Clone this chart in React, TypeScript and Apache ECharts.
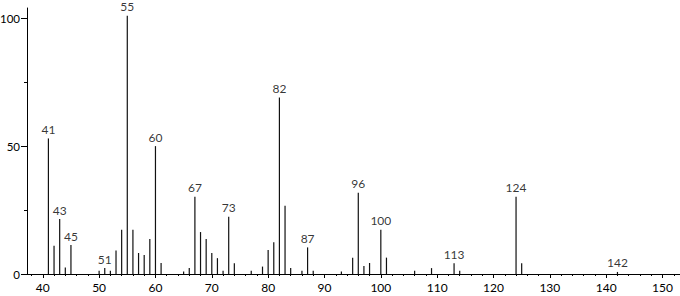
import React, { useEffect, useRef } from "react";
import * as echarts from "echarts";

const mz = [41, 42, 43, 44, 45, 50, 51, 52, 53, 54, 55, 56, 57, 58, 59, 60, 61, 65, 66, 67, 68, 69, 70, 71, 72, 73, 74, 77, 79, 80, 81, 82, 83, 84, 86, 87, 88, 93, 95, 96, 97, 98, 100, 101, 106, 109, 113, 114, 124, 125, 142];
const intensity = [53, 11, 21.5, 2.5, 11.3, 1.3, 2.3, 1.3, 9.2, 17.3, 101, 17.3, 8.2, 7.4, 13.7, 50, 4.3, 1, 2.3, 30.2, 16.4, 13.7, 8.2, 6.2, 1.3, 22.4, 4.2, 1.3, 2.9, 9.4, 12.4, 69, 26.7, 2.3, 1.3, 10.4, 1.3, 1, 6.4, 31.8, 3.1, 4.3, 17.3, 6.4, 1.3, 2.3, 4.2, 1.3, 30.2, 4.2, 0.8];
const labeledPeaks = [41, 43, 45, 51, 55, 60, 67, 73, 82, 87, 96, 100, 113, 124, 142];
const xMajorTicks = [40, 50, 60, 70, 80, 90, 100, 110, 120, 130, 140, 150];
const xMinorTicks = [38, 42, 44, 46, 48, 52, 54, 56, 58, 62, 64, 66, 68, 72, 74, 76, 78, 82, 84, 86, 88, 92, 94, 96, 98, 102, 104, 106, 108, 112, 114, 116, 118, 122, 124, 126, 128, 132, 134, 136, 138, 142, 144, 146, 148, 152];
const yMajorTicks = [0, 50, 100];
const yMinorTicks = [25, 75];

const FONT = "Lato";

export default function App() {
  const ref = useRef<HTMLDivElement>(null);
  useEffect(() => {
    if (!ref.current) return;
    const chart = echarts.init(ref.current, undefined, { renderer: "svg" });
    const xMin = 37.2;
    const xMax = 153.1;
    const yMax = 104;
    chart.setOption({
      animation: false,
      backgroundColor: "#fff",
      grid: { left: 27, right: 0, top: 8, bottom: 22, containLabel: false, outerBoundsMode: "none" },
      xAxis: [
        {
          type: "value",
          min: xMin,
          max: xMax,
          position: "bottom",
          splitLine: { show: false },
          axisLine: { show: true, onZero: false, lineStyle: { color: "#000", width: 1 } },
          axisTick: { show: true, customValues: xMajorTicks, length: 4, lineStyle: { color: "#000" } },
          axisLabel: { show: true, customValues: xMajorTicks, margin: 7, color: "#000", fontFamily: FONT, fontSize: 12 },
        },
        {
          type: "value",
          min: xMin,
          max: xMax,
          position: "bottom",
          splitLine: { show: false },
          axisLine: { show: false, onZero: false },
          axisTick: { show: true, customValues: xMinorTicks, length: 2, lineStyle: { color: "#000" } },
          axisLabel: { show: false },
        },
      ],
      yAxis: [
        {
          type: "value",
          min: 0,
          max: yMax,
          splitLine: { show: false },
          axisLine: { show: true, lineStyle: { color: "#000", width: 1 } },
          axisTick: { show: true, customValues: yMajorTicks, length: 6, lineStyle: { color: "#000" } },
          axisLabel: { show: true, customValues: yMajorTicks, margin: 7, color: "#000", fontFamily: FONT, fontSize: 11.5 },
        },
        {
          type: "value",
          min: 0,
          max: yMax,
          position: "left",
          splitLine: { show: false },
          axisLine: { show: false },
          axisTick: { show: true, customValues: yMinorTicks, length: 3, lineStyle: { color: "#000" } },
          axisLabel: { show: false },
        },
      ],
      series: [
        {
          type: "custom",
          xAxisIndex: 0,
          yAxisIndex: 0,
          data: mz.map((m, i) => [m, intensity[i]]),
          renderItem: (params: any, api: any) => {
            const x = api.value(0);
            const y = api.value(1);
            const top = api.coord([x, y]);
            const bottom = api.coord([x, 0]);
            return {
              type: "line",
              shape: { x1: top[0], y1: top[1], x2: bottom[0], y2: bottom[1] },
              style: { stroke: "#111", lineWidth: 1.2 },
            };
          },
        },
        {
          type: "scatter",
          xAxisIndex: 0,
          yAxisIndex: 0,
          symbolSize: 0,
          silent: true,
          data: mz
            .map((m, i) => [m, intensity[i]])
            .filter((d) => labeledPeaks.includes(d[0])),
          label: {
            show: true,
            position: "top",
            distance: 3,
            formatter: (p: any) => String(p.value[0]),
            color: "#000",
            fontFamily: FONT,
            fontSize: 12,
          },
        },
      ],
    });
    return () => chart.dispose();
  }, []);
  return <div ref={ref} style={{ width: 680, height: 296, position: "absolute", left: 0, top: 0 }} />;
}
